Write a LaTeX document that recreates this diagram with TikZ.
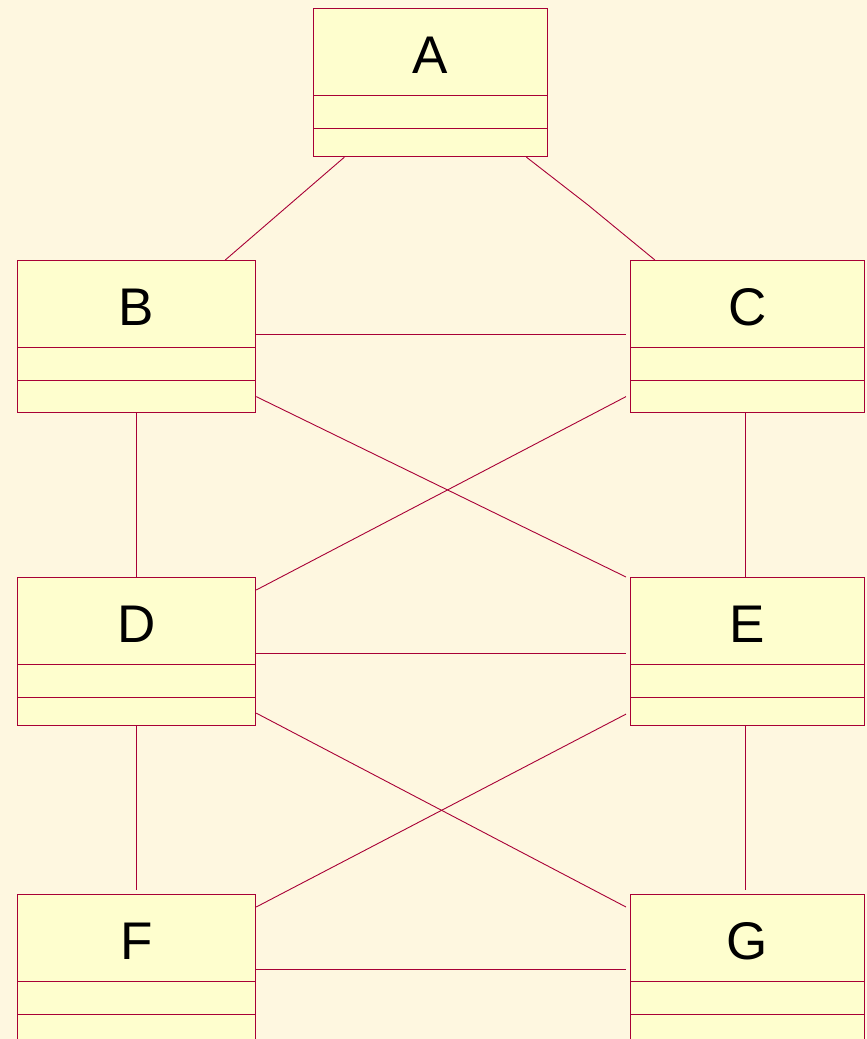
\documentclass[tikz,border=0pt]{standalone}
\usepackage{fontspec}
\setmainfont{Liberation Sans}
\definecolor{bgc}{HTML}{FEF7E0}
\definecolor{boxfill}{HTML}{FEFECE}
\definecolor{boxline}{HTML}{A80036}
\newcommand\umlclass[6]{%
  \node[umlbox, minimum width=#4pt, minimum height=#5pt, anchor=north west] (#1) at (#2,#3) {};
  \node[umllabel, anchor=base] (#1-label) at ([yshift=-65pt]#1.north) {#6};
  \draw[sepline] ([yshift=-87pt]#1.north west) -- ([yshift=-87pt]#1.north east);
  \draw[sepline] ([yshift=-120pt]#1.north west) -- ([yshift=-120pt]#1.north east);
}
\tikzset{
  umlbox/.style={rectangle, draw=boxline, fill=boxfill, line width=1.2pt, inner sep=0pt},
  umllabel/.style={inner sep=0pt, font=\fontsize{53}{60}\selectfont, text=black},
  sepline/.style={draw=boxline, line width=0.8pt},
  assoc/.style={draw=boxline, line width=0.9pt},
}
\begin{document}
\begin{tikzpicture}[x=1pt,y=-1pt]
\fill[bgc] (0,0) rectangle (867,1039);
\useasboundingbox (0,0) rectangle (867,1039);
\clip (0,0) rectangle (867,1039);
\umlclass{A}{313}{8}{234}{148}{A}
\umlclass{B}{17}{260}{238}{152}{B}
\umlclass{C}{630}{260}{234}{152}{C}
\umlclass{D}{17}{577}{238}{148}{D}
\umlclass{E}{630}{577}{234}{148}{E}
\umlclass{F}{17}{894}{238}{152}{F}
\umlclass{G}{630}{894}{234}{152}{G}
\coordinate (ac) at (588,205);
% connectors
\draw[assoc] (A) -- (B);
\draw[assoc] (A) -- (ac) -- (C);
\draw[assoc, shorten >=4pt] ([yshift=2pt]B.east) -- ([yshift=2pt]C.west);
\draw[assoc] ([yshift=-60pt]B.east) -- ([xshift=-4pt]E.north west);
\draw[assoc] ([xshift=-4pt,yshift=-60pt]C.east -| C.west) -- ([yshift=-13pt]D.north east);
\draw[assoc] (B) -- (D);
\draw[assoc] ([xshift=-2pt]C.south) -- ([xshift=-2pt]E.north);
\draw[assoc, shorten >=4pt] ([yshift=-1.5pt]D.east) -- ([yshift=-1.5pt]E.west);
\draw[assoc] ([yshift=-61.5pt]D.east) -- ([xshift=-4pt,yshift=-13pt]G.north west);
\draw[assoc] ([xshift=-4pt,yshift=-62.5pt]E.west) -- ([yshift=-13pt]F.north east);
\draw[assoc, shorten >=4pt] (D) -- (F);
\draw[assoc, shorten >=4pt] ([xshift=-2pt]E.south) -- ([xshift=-2pt]G.north);
\draw[assoc, shorten >=4pt] ([yshift=-75pt]F.north east) -- ([yshift=-75pt]G.north west);
\end{tikzpicture}
\end{document}
